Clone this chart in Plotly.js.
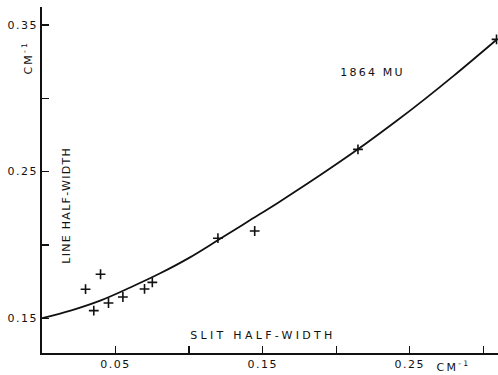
<!DOCTYPE html>
<html>
<head>
<meta charset="utf-8">
<script src="https://cdn.plot.ly/plotly-3.0.1.min.js"></script>
<style>
html,body{margin:0;padding:0;background:#fff;}
#chart{width:498px;height:375px;}
#chart .annotation-text{letter-spacing:2.2px;}
#chart .annotation[data-index="2"] .annotation-text{letter-spacing:1.3px;}
#chart .annotation[data-index="3"] .annotation-text{letter-spacing:3.3px;}
#chart .xtick text, #chart .ytick text{letter-spacing:1.5px;}
</style>
</head>
<body>
<div id="chart"></div>
<script>
// Measured points (slit half-width vs line half-width, cm^-1)
var slitWidth = [0.0296, 0.0398, 0.0352, 0.0452, 0.0550, 0.0697, 0.0750, 0.1196, 0.1446, 0.2148, 0.3090];
var lineWidth = [0.1698, 0.1800, 0.1552, 0.1604, 0.1645, 0.1700, 0.1745, 0.2046, 0.2095, 0.2652, 0.3402];

// Drawn smooth curve
var curveX = [0, 0.02, 0.04, 0.06, 0.08, 0.10, 0.12, 0.14, 0.16, 0.18, 0.20, 0.22, 0.24, 0.26, 0.28, 0.309];
var curveY = [0.150, 0.1554, 0.1622, 0.1710, 0.1805, 0.1912, 0.2035, 0.2160, 0.2285, 0.2415, 0.2550, 0.2690, 0.2838, 0.2993, 0.3155, 0.3400];

var xTickVals = [0.05, 0.10, 0.15, 0.20, 0.25, 0.30];
var xTickText = ['0.05', '', '0.15', '', '0.25', ''];
var yTickVals = [0.15, 0.20, 0.25, 0.30, 0.35];
var yTickText = ['0.15', '', '0.25', '', '0.35'];

var FONT = 'DejaVu Sans, sans-serif';

var traces = [
  {x: curveX, y: curveY, mode: 'lines', type: 'scatter',
   line: {color: '#111', width: 1.8, shape: 'spline', smoothing: 1}, hoverinfo: 'skip', showlegend: false},
  {x: slitWidth, y: lineWidth, mode: 'markers', type: 'scatter',
   marker: {symbol: 'cross-thin', size: 7, color: '#111', line: {color: '#111', width: 1.6}}, showlegend: false}
];

var layout = {
  width: 498, height: 375,
  margin: {l: 42, r: 0, t: 7, b: 22, pad: 0},
  paper_bgcolor: '#fff', plot_bgcolor: '#fff',
  font: {family: FONT, size: 11, color: '#111'},
  xaxis: {range: [0, 0.31], showgrid: false, zeroline: false,
    showline: true, linecolor: '#111', linewidth: 1.8, mirror: false,
    tickmode: 'array', tickvals: xTickVals, ticktext: xTickText,
    ticks: 'inside', ticklen: 7, tickwidth: 1.3, tickcolor: '#111',
    tickfont: {family: FONT, size: 11, color: '#111'}},
  yaxis: {range: [0.1263, 0.3623], showgrid: false, zeroline: false,
    showline: true, linecolor: '#111', linewidth: 1.8, mirror: false,
    tickmode: 'array', tickvals: yTickVals, ticktext: yTickText,
    ticks: 'inside', ticklen: 7, tickwidth: 1.3, tickcolor: '#111',
    tickfont: {family: FONT, size: 11, color: '#111'}},
  annotations: [
    {text: 'CM<sup>-1</sup>', xref: 'x', yref: 'paper', x: 0.28, y: -0.04, xanchor: 'center', yanchor: 'middle',
     showarrow: false, font: {family: FONT, size: 11, color: '#111'}},
    {text: 'CM<sup>-1</sup>', xref: 'paper', yref: 'paper', x: -0.03, y: 0.853, xanchor: 'center', yanchor: 'middle',
     showarrow: false, textangle: -90, font: {family: FONT, size: 11, color: '#111'}},
    {text: 'LINE HALF-WIDTH', xref: 'paper', yref: 'paper', x: 0.055, y: 0.425, xanchor: 'center', yanchor: 'middle',
     showarrow: false, textangle: -90, font: {family: FONT, size: 11, color: '#111'}},
    {text: 'SLIT HALF-WIDTH', xref: 'paper', yref: 'paper', x: 0.484, y: 0.05, xanchor: 'center', yanchor: 'middle',
     showarrow: false, font: {family: FONT, size: 11, color: '#111'}},
    {text: '1864 MU', xref: 'paper', yref: 'paper', x: 0.725, y: 0.81, xanchor: 'center', yanchor: 'middle',
     showarrow: false, font: {family: FONT, size: 11, color: '#111'}}
  ]
};

Plotly.newPlot('chart', traces, layout, {displayModeBar: false, staticPlot: true});
</script>
</body>
</html>
